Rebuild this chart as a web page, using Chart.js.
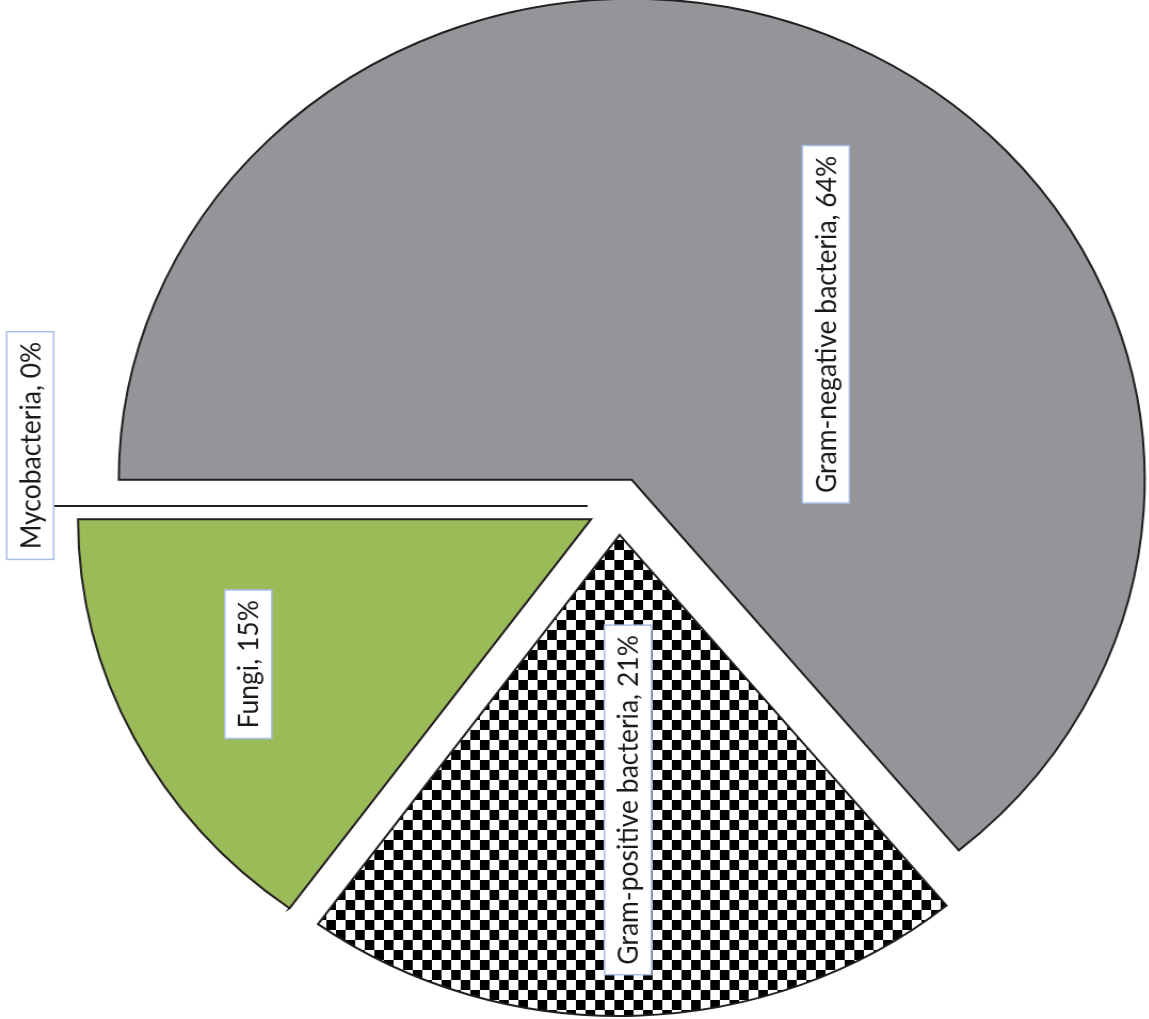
<!DOCTYPE html>
<html>
<head>
<meta charset="utf-8">
<script src="https://cdn.jsdelivr.net/npm/chart.js@4.4.1/dist/chart.umd.min.js"></script>
<style>
  html, body { margin: 0; padding: 0; background: #fff; overflow: hidden; }
  /* the original picture is a little wider than it is tall, so stretch the canvas */
  #wrap { width: 1077px; height: 1019px; transform: scaleX(1.0665); transform-origin: 0 0; }
</style>
</head>
<body>
<div id="wrap"><canvas id="pie"></canvas></div>
<script>
const categories = ['Gram-negative bacteria', 'Gram-positive bacteria', 'Fungi', 'Mycobacteria'];
const percentages = [64, 21, 15, 0];

// where each label box sits, relative to its own (exploded) slice centre
const labelAngles = [-40.5, 88.3, 155.7, 186.6]; // degrees, screen direction
const labelDist = [0.4975, 0.551, 0.733, 1.094];  // fraction of radius

const EXPLODE = 29;

function checker() {
    const c = document.createElement('canvas');
    c.width = 18;
    c.height = 20;
    const g = c.getContext('2d');
    g.fillStyle = '#fff';
    g.fillRect(0, 0, 18, 20);
    g.fillStyle = '#000';
    g.fillRect(0, 0, 9, 10);
    g.fillRect(9, 10, 9, 10);
    return g.createPattern(c, 'repeat');
}

// move every slice out along its bisector, like an exploded Excel pie
const explodePlugin = {
    id: 'explode',
    afterUpdate(chart) {
        chart.getDatasetMeta(0).data.forEach(arc => {
            const mid = (arc.startAngle + arc.endAngle) / 2;
            arc.x += Math.cos(mid) * EXPLODE;
            arc.y += Math.sin(mid) * EXPLODE;
        });
    }
};

// rotated data labels in white boxes
const labelPlugin = {
    id: 'sliceLabels',
    afterDatasetsDraw(chart) {
        const ctx = chart.ctx;
        const meta = chart.getDatasetMeta(0);
        ctx.save();
        ctx.font = '26.5px Lato';
        meta.data.forEach((arc, i) => {
            const a = labelAngles[i] * Math.PI / 180;
            const cx = arc.x + Math.cos(a) * labelDist[i] * arc.outerRadius;
            const cy = arc.y + Math.sin(a) * labelDist[i] * arc.outerRadius;
            const text = categories[i] + ', ' + percentages[i] + '%';
            const w = ctx.measureText(text).width + 20;
            const t = 44;

            if (percentages[i] === 0) {
                // zero slice: only its edge shows, running out to the label
                ctx.beginPath();
                ctx.moveTo(arc.x, arc.y);
                ctx.lineTo(cx + t / 2, arc.y);
                ctx.lineWidth = 2;
                ctx.strokeStyle = '#231f20';
                ctx.stroke();
            }

            ctx.save();
            ctx.translate(cx, cy);
            ctx.rotate(-Math.PI / 2);
            ctx.fillStyle = '#fff';
            ctx.fillRect(-w / 2, -t / 2, w, t);
            ctx.lineWidth = 1.5;
            ctx.strokeStyle = '#a9bfe6';
            ctx.strokeRect(-w / 2, -t / 2, w, t);
            ctx.fillStyle = '#1a1a1a';
            ctx.textAlign = 'center';
            ctx.textBaseline = 'middle';
            ctx.fillText(text, 0, 1);
            ctx.restore();
        });
        ctx.restore();
    }
};

document.fonts.load('26.5px Lato').then(function() {
    const ctx = document.getElementById('pie').getContext('2d');
    new Chart(ctx, {
        type: 'pie',
        data: {
            labels: categories,
            datasets: [{
                data: percentages,
                backgroundColor: ['#939598', checker(), '#9bbb59', '#4f81bd'],
                borderColor: '#231f20',
                borderWidth: 2,
                borderJoinStyle: 'miter',
                clip: false
            }]
        },
        options: {
            responsive: true,
            maintainAspectRatio: false,
            animation: false,
            events: [],
            rotation: -90,
            radius: 481,
            layout: { padding: { left: 83, right: 0, top: 0, bottom: 7 } },
            plugins: {
                legend: { display: false },
                tooltip: { enabled: false }
            }
        },
        plugins: [explodePlugin, labelPlugin]
    });
});
</script>
</body>
</html>
